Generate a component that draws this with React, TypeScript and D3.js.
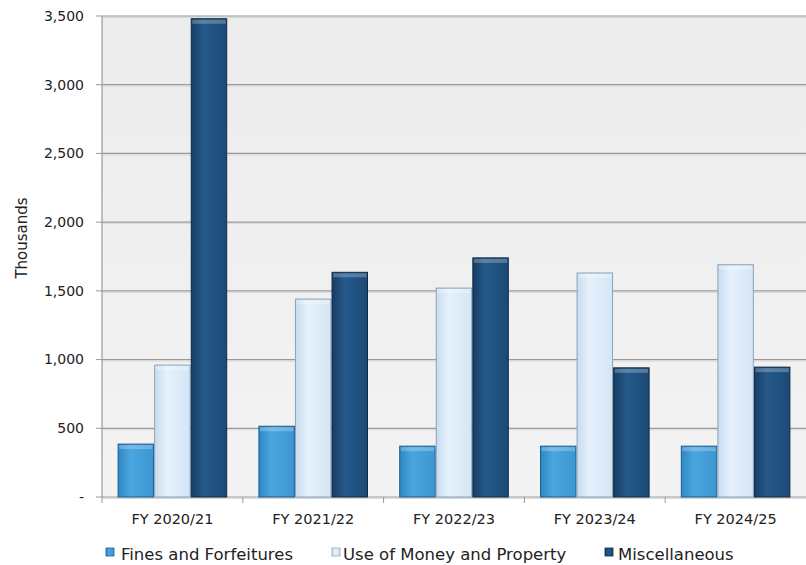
import React from "react";
import * as d3 from "d3";

const categories = ["FY 2020/21", "FY 2021/22", "FY 2022/23", "FY 2023/24", "FY 2024/25"];
const seriesNames = ["Fines and Forfeitures", "Use of Money and Property", "Miscellaneous"];
const finesValues = [385, 515, 370, 370, 370];
const useOfMoneyValues = [960, 1440, 1520, 1630, 1690];
const miscValues = [3480, 1635, 1740, 940, 945];
const yTicks = [0, 500, 1000, 1500, 2000, 2500, 3000, 3500];

const seriesValues = [finesValues, useOfMoneyValues, miscValues];
const fills = [
  { id: "gFines", dark: "#2f86c4", mid: "#4aa6df", light: "#3b95d2", stroke: "#1f5f8f" },
  { id: "gUse", dark: "#c7dcef", mid: "#e6f1fb", light: "#d3e5f6", stroke: "#8aa3ba" },
  { id: "gMisc", dark: "#173d63", mid: "#24598a", light: "#1c4a76", stroke: "#0e2a47" },
];

const W = 806;
const H = 565;
const margin = { left: 102, right: 0, top: 16, bottom: 68 };

export default function App() {
  const plotW = W - margin.left - margin.right;
  const plotH = H - margin.top - margin.bottom;
  const x0 = d3.scaleBand<string>().domain(categories).range([margin.left, margin.left + plotW]).paddingInner(0).paddingOuter(0);
  const innerPad = 15;
  const x1 = d3
    .scaleBand<number>()
    .domain([0, 1, 2])
    .range([innerPad, x0.bandwidth() - innerPad])
    .padding(0.03);
  const y = d3.scaleLinear().domain([0, 3500]).range([margin.top + plotH, margin.top]);
  const fmt = d3.format(",");
  const font = "Verdana, 'DejaVu Sans', sans-serif";

  const legendX = [106, 332, 605];
  const legendTextX = [121, 343, 618];

  return (
    <svg width={W} height={H} style={{ position: "absolute", left: 0, top: 0 }} xmlns="http://www.w3.org/2000/svg">
      <defs>
        {fills.map((f) => (
          <linearGradient key={f.id} id={f.id} x1="0" x2="1" y1="0" y2="0">
            <stop offset="0" stopColor={f.dark} />
            <stop offset="0.35" stopColor={f.mid} />
            <stop offset="1" stopColor={f.light} />
          </linearGradient>
        ))}
        <linearGradient id="plotBg" x1="0" x2="0" y1="0" y2="1">
          <stop offset="0" stopColor="#ececec" />
          <stop offset="1" stopColor="#f3f3f3" />
        </linearGradient>
      </defs>
      <rect x={0} y={0} width={W} height={H} fill="#ffffff" />
      <rect x={margin.left} y={margin.top} width={plotW} height={plotH} fill="url(#plotBg)" />

      {/* horizontal gridlines */}
      {yTicks.map((t) => (
        <g key={t}>
          <line x1={margin.left} x2={margin.left + plotW} y1={y(t)} y2={y(t)} stroke="#9a9a9a" strokeWidth={1.2} />
          <line x1={margin.left} x2={margin.left + plotW} y1={y(t) + 1.5} y2={y(t) + 1.5} stroke="#d8d8d8" strokeWidth={1} />
          <line x1={margin.left - 6} x2={margin.left} y1={y(t)} y2={y(t)} stroke="#9a9a9a" />
          <text x={margin.left - 18} y={y(t)} dy="0.35em" textAnchor="end" fontFamily={font} fontSize={14} fill="#222">
            {t === 0 ? "-" : fmt(t)}
          </text>
        </g>
      ))}

      {/* axes */}
      <line x1={margin.left} x2={margin.left} y1={margin.top} y2={margin.top + plotH} stroke="#9a9a9a" strokeWidth={1.2} />
      {categories.map((c) => (
        <line key={c} x1={x0(c)!} x2={x0(c)!} y1={y(0)} y2={y(0) + 6} stroke="#9a9a9a" />
      ))}

      {/* bars */}
      {categories.map((c, ci) => (
        <g key={c}>
          {seriesValues.map((vals, s) => {
            const v = vals[ci];
            const bx = x0(c)! + x1(s)!;
            const bw = x1.bandwidth();
            const by = y(v);
            const bh = y(0) - by;
            return (
              <g key={s}>
                <rect x={bx} y={by} width={bw} height={bh} fill={`url(#${fills[s].id})`} stroke={fills[s].stroke} strokeWidth={1} />
                <rect x={bx + 1} y={by + 1} width={bw - 2} height={4} fill="#ffffff" opacity={0.25} />
              </g>
            );
          })}
        </g>
      ))}

      {/* category labels */}
      {categories.map((c) => (
        <text key={c} x={x0(c)! + x0.bandwidth() / 2} y={y(0) + 27} textAnchor="middle" fontFamily={font} fontSize={14.5} fill="#222">
          {c}
        </text>
      ))}

      {/* y-axis title */}
      <text transform={`translate(27, 238) rotate(-90)`} textAnchor="middle" fontFamily={font} fontSize={15} fill="#222">
        Thousands
      </text>

      {/* legend */}
      {seriesNames.map((n, i) => (
        <g key={n}>
          <rect x={legendX[i]} y={548} width={8} height={8} fill={`url(#${fills[i].id})`} stroke={fills[i].stroke} strokeWidth={0.8} />
          <text x={legendTextX[i]} y={560} fontFamily={font} fontSize={16.5} fill="#222">
            {n}
          </text>
        </g>
      ))}
    </svg>
  );
}
